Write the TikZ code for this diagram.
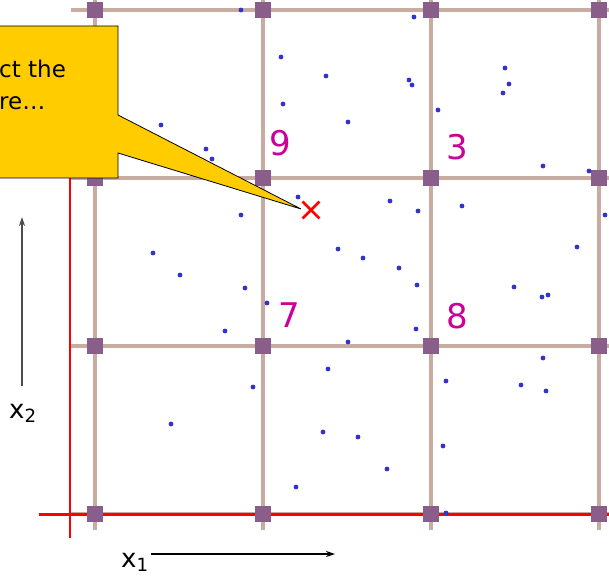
\documentclass[tikz,border=0pt]{standalone}
\usepackage{fontspec}
\setmainfont{DejaVu Sans}
\usetikzlibrary{shapes.misc,arrows.meta}
\definecolor{gridtan}{RGB}{200,172,162}
\definecolor{knotpurple}{RGB}{138,94,138}
\definecolor{dotblue}{RGB}{51,51,204}
\definecolor{cellmagenta}{RGB}{204,0,153}
\definecolor{calloutyellow}{RGB}{255,204,0}
\begin{document}
\begin{tikzpicture}[x=1pt, y=-1pt, >={Stealth[length=9pt, width=6pt]},
  knot/.style={fill=knotpurple, minimum size=16pt, inner sep=0pt},
  sample/.style={fill=dotblue, circle, minimum size=4.8pt, inner sep=0pt},
  cellnum/.style={text=cellmagenta, inner sep=0pt, font=\fontsize{34}{34}\selectfont},
  axlabel/.style={inner sep=0pt, anchor=base west, font=\fontsize{26}{26}\selectfont}]
\useasboundingbox (0,0) rectangle (609,577);
\foreach \y in {10,178,346,514} \draw[gridtan, line width=3.5pt] (71,\y) -- (615,\y);
\foreach \x in {95,263,431,599} \draw[gridtan, line width=3.5pt] (\x,-5) -- (\x,530);
\draw[red, line width=3pt] (39,514) -- (615,514);
\draw[red, line width=2.5pt] (70,100) -- (70,538);
\foreach \x in {95,263,431,599} \foreach \y in {10,178,346,514} \node[knot] (k-\x-\y) at (\x,\y) {};
\foreach \x/\y [count=\i] in {241/10,281/57,283/104,161/125,206/149,212/159,298/197,241/215,
  414/17,326/76,409/80,412/85,348/122,438/110,505/68,509/84,503/93,543/166,589/171,
  390/201,418/211,462/206,605/215,153/253,180/275,245/288,267/303,225/331,253/387,
  171/424,296/487,338/249,363/258,399/268,417/285,416/329,348/342,328/369,323/432,
  358/437,387/469,443/446,446/381,514/287,542/297,548/295,577/247,543/358,521/385,
  546/391,446/513}
  \node[sample] (s\i) at (\x,\y) {};
\node[cellnum] (n9) at (280,143) {9};
\node[cellnum] (n3) at (457,147) {3};
\node[cellnum] (n7) at (289,315) {7};
\node[cellnum] (n8) at (457,316) {8};
\node[cross out, draw=red, line width=2.8pt, minimum size=14pt, inner sep=0pt] (q) at (311,210) {};
\filldraw[fill=calloutyellow, draw=black, line width=0.8pt] (-5,26) -- (118,26) -- (118,115) -- (301,209) -- (118,153) -- (118,178) -- (-5,178) -- cycle;
\node[anchor=north west, align=left, inner sep=0pt, font=\fontsize{23}{32}\selectfont] (msg) at (-1,60) {ct the\\re…};
\coordinate (b1) at (22,386);
\coordinate (b2) at (22,217);
\coordinate (a1) at (151,554);
\coordinate (a2) at (335,554);
\draw[->, black!70, line width=1.2pt] (b1) -- (b2);
\draw[->, line width=1.2pt] (a1) -- (a2);
\node[axlabel] (lx2) at (9,418) {x\textsubscript{2}};
\node[axlabel] (lx1) at (121,567) {x\textsubscript{1}};
\end{tikzpicture}
\end{document}
